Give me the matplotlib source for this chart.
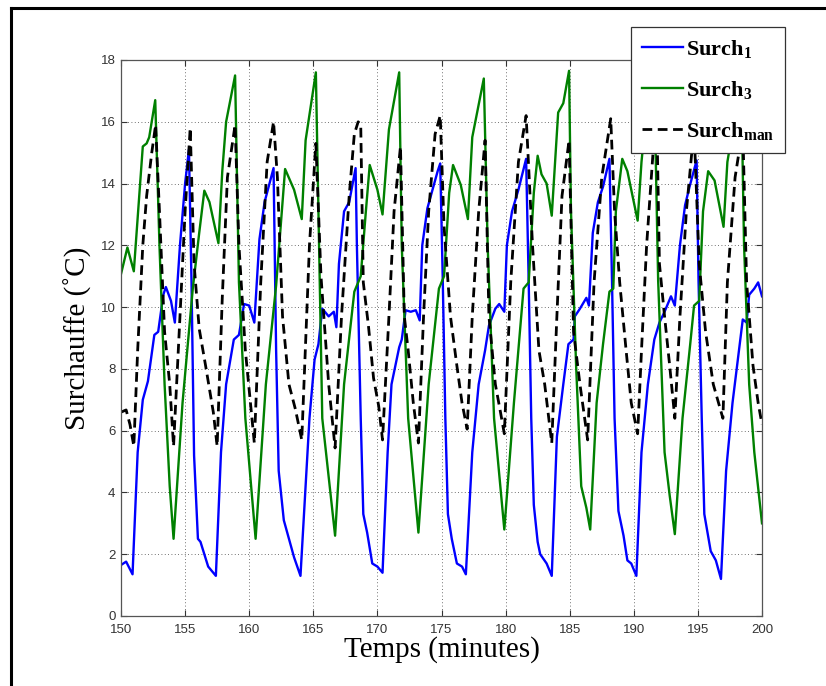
import matplotlib
matplotlib.use("Agg")
import matplotlib.pyplot as plt
from matplotlib.lines import Line2D

# ============================================================
# Plot settings
# ============================================================
matplotlib.rcParams.update({
    "font.family": ["Liberation Serif", "DejaVu Serif"],
    "mathtext.fontset": "custom",
    "mathtext.default": "bf",
    "mathtext.bf": "Liberation Serif:bold",
    "mathtext.rm": "Liberation Serif:bold",
})

# ============================================================
# Data
# ============================================================
t_surch1 = [
    150.0, 150.4, 150.9, 151.3, 151.7, 152.1, 152.6, 152.9, 153.3, 153.5,
    153.9, 154.2, 154.6, 155.0, 155.3, 155.5, 155.7, 156.0, 156.2, 156.8,
    157.4, 157.8, 158.2, 158.8, 159.2, 159.6, 160.0, 160.4, 160.8, 161.2,
    161.9, 162.1, 162.3, 162.7, 163.1, 163.5, 164.0, 164.7, 165.1, 165.4,
    165.7, 166.2, 166.6, 166.8, 167.0, 167.4, 167.8, 168.3, 168.4, 168.7,
    168.9, 169.2, 169.6, 170.0, 170.4, 170.8, 171.1, 171.7, 171.9, 172.2,
    172.6, 173.0, 173.3, 173.5, 173.9, 174.3, 174.7, 174.9, 175.1, 175.3,
    175.5, 175.8, 176.2, 176.6, 176.9, 177.4, 177.9, 178.4, 178.7, 179.2,
    179.5, 179.9, 180.1, 180.5, 181.0, 181.6, 181.8, 182.0, 182.2, 182.5,
    182.7, 183.2, 183.6, 184.0, 184.5, 184.9, 185.3, 185.4, 185.8, 186.3,
    186.5, 186.8, 187.2, 187.6, 188.1, 188.3, 188.5, 188.8, 189.2, 189.5,
    189.8, 190.2, 190.6, 191.1, 191.6, 192.0, 192.4, 192.9, 193.2, 193.6,
    194.0, 194.35, 194.9, 195.05, 195.3, 195.5, 196.0, 196.4, 196.8, 197.2,
    197.7, 198.2, 198.5, 198.8, 199.0, 199.4, 199.7, 200.0,
]
surch1 = [
    1.65, 1.76, 1.35, 5.3, 7.0, 7.6, 9.1, 9.2, 10.4, 10.65,
    10.2, 9.5, 12.0, 14.0, 15.1, 10.8, 5.2, 2.5, 2.4, 1.6,
    1.3, 5.3, 7.5, 8.95, 9.1, 10.1, 10.05, 9.5, 12.2, 13.4,
    14.5, 8.6, 4.7, 3.1, 2.5, 1.9, 1.3, 6.4, 8.3, 8.8,
    9.95, 9.7, 9.85, 9.35, 11.4, 13.1, 13.4, 14.5, 12.0, 6.4,
    3.3, 2.7, 1.7, 1.6, 1.4, 5.3, 7.5, 8.7, 8.95, 9.9,
    9.85, 9.9, 9.57, 12.0, 13.2, 13.8, 14.4, 14.65, 10.85, 6.4,
    3.3, 2.5, 1.7, 1.6, 1.35, 5.3, 7.5, 8.6, 9.4, 9.95,
    10.1, 9.85, 12.0, 13.1, 13.8, 14.8, 10.85, 6.4, 3.6, 2.4,
    2.0, 1.7, 1.3, 5.8, 7.5, 8.8, 8.95, 9.7, 9.95, 10.3,
    10.05, 12.4, 13.4, 13.9, 14.8, 10.85, 6.4, 3.4, 2.6, 1.8,
    1.7, 1.3, 5.3, 7.5, 8.95, 9.5, 9.85, 10.35, 10.05, 12.0,
    13.3, 13.9, 14.75, 10.85, 6.4, 3.3, 2.1, 1.8, 1.2, 4.7,
    6.9, 8.6, 9.6, 9.5, 10.4, 10.6, 10.8, 10.35,
]

t_surch3 = [
    150.0, 150.5, 151.0, 151.7, 152.0, 152.2, 152.67, 153.0, 153.4, 153.8,
    154.1, 154.8, 155.6, 156.1, 156.5, 156.9, 157.6, 157.9, 158.2, 158.9,
    159.2, 159.7, 160.5, 161.3, 162.1, 162.8, 163.5, 164.1, 164.4, 165.2,
    165.7, 166.7, 167.4, 168.2, 168.7, 169.1, 169.4, 170.0, 170.4, 170.9,
    171.7, 171.9, 172.4, 173.2, 174.0, 174.8, 175.2, 175.6, 175.9, 176.5,
    177.06, 177.4, 178.3, 178.6, 179.1, 179.9, 180.65, 181.4, 181.8, 182.2,
    182.5, 182.8, 183.2, 183.6, 184.1, 184.5, 184.95, 185.1, 185.5, 185.9,
    186.3, 186.6, 187.1, 187.6, 188.1, 188.4, 188.6, 189.1, 189.5, 190.3,
    190.6, 191.0, 191.6, 191.9, 192.4, 192.8, 193.2, 193.8, 194.4, 194.7,
    195.1, 195.4, 195.8, 196.3, 197.0, 197.3, 197.9, 198.4, 198.6, 199.0,
    199.4, 200.0,
]
surch3 = [
    11.07, 11.93, 11.16, 15.2, 15.3, 15.5, 16.7, 12.0, 7.5, 4.2,
    2.5, 6.9, 10.6, 12.4, 13.77, 13.4, 12.07, 14.4, 16.0, 17.5,
    10.8, 6.4, 2.5, 7.5, 10.7, 14.47, 13.8, 12.85, 15.4, 17.6,
    6.4, 2.6, 7.5, 10.5, 11.0, 13.1, 14.6, 13.8, 13.0, 15.75,
    17.6, 12.0, 6.4, 2.7, 7.5, 10.6, 11.0, 13.7, 14.6, 13.96,
    12.85, 15.5, 17.4, 12.0, 6.4, 2.8, 6.9, 10.6, 10.8, 13.7,
    14.9, 14.3, 14.0, 12.96, 16.3, 16.6, 17.65, 13.1, 8.1, 4.2,
    3.5, 2.8, 6.9, 8.8, 10.5, 10.6, 13.1, 14.8, 14.4, 12.8,
    14.7, 16.4, 17.2, 10.85, 5.3, 3.9, 2.65, 6.4, 8.8, 10.05,
    10.2, 13.1, 14.4, 14.1, 12.6, 14.7, 16.2, 16.8, 12.0, 7.5,
    5.3, 3.0,
]

t_surch_man = [
    150.0, 150.4, 150.7, 151.0, 151.3, 151.7, 152.0, 152.4, 152.7, 153.0,
    153.4, 153.8, 154.1, 154.6, 155.0, 155.4, 155.7, 156.1, 156.6, 157.2,
    157.5, 157.9, 158.3, 158.9, 159.2, 159.7, 160.4, 160.9, 161.4, 161.9,
    162.2, 162.6, 163.1, 163.6, 164.1, 164.7, 165.2, 165.6, 166.2, 166.7,
    167.2, 167.8, 168.2, 168.5, 168.7, 168.9, 169.3, 169.7, 170.1, 170.4,
    170.9, 171.3, 171.8, 172.1, 172.4, 172.8, 173.2, 173.6, 174.0, 174.5,
    174.9, 175.2, 175.7, 176.2, 176.6, 177.0, 177.4, 177.9, 178.4, 178.7,
    179.2, 179.6, 179.9, 180.4, 181.0, 181.6, 182.1, 182.6, 183.05, 183.6,
    184.0, 184.4, 184.95, 185.3, 185.8, 186.4, 186.9, 187.5, 188.2, 188.5,
    188.9, 189.4, 189.8, 190.3, 190.6, 191.0, 191.5, 191.8, 192.0, 192.4,
    192.8, 193.2, 193.6, 194.1, 194.7, 195.1, 195.6, 196.2, 196.95, 197.3,
    197.9, 198.5, 198.8, 199.3, 199.7, 200.0,
]
surch_man = [
    6.6, 6.67, 6.2, 5.5, 8.6, 12.0, 13.6, 15.0, 15.9, 13.1,
    9.2, 7.5, 5.5, 9.7, 13.1, 15.8, 11.4, 9.3, 8.1, 6.6,
    5.5, 10.3, 14.2, 15.9, 12.0, 8.6, 5.6, 10.8, 14.7, 16.0,
    14.2, 9.7, 7.5, 6.7, 5.7, 12.0, 15.3, 11.0, 7.5, 5.44,
    9.7, 13.6, 15.6, 16.0, 15.9, 10.8, 9.4, 7.7, 6.8, 5.7,
    9.7, 13.1, 15.2, 9.7, 8.6, 6.9, 5.6, 9.7, 13.1, 15.6,
    16.2, 12.6, 9.7, 8.1, 6.9, 6.05, 9.7, 13.1, 15.4, 9.7,
    7.5, 6.6, 5.9, 10.8, 14.7, 16.2, 12.0, 8.6, 7.5, 5.6,
    9.7, 13.6, 15.4, 9.2, 7.5, 5.7, 10.8, 14.2, 16.1, 13.1,
    10.8, 8.6, 6.9, 5.9, 8.6, 12.0, 15.0, 16.0, 11.4, 9.7,
    8.1, 6.4, 9.7, 13.1, 15.8, 11.4, 9.2, 7.5, 6.4, 10.8,
    14.2, 15.8, 10.8, 8.1, 6.9, 6.2,
]

labels = [r"$Surch_1$", r"$Surch_3$", r"$Surch_{man}$"]
x_ticks = [150, 155, 160, 165, 170, 175, 180, 185, 190, 195, 200]
y_ticks = [0, 2, 4, 6, 8, 10, 12, 14, 16, 18]


# ============================================================
# Plotting
# ============================================================
def main():
    fig = plt.figure(figsize=(8.26, 6.86), dpi=100)
    ax = fig.add_axes([121 / 826, 1 - 616 / 686, (762 - 121) / 826, (616 - 60) / 686])

    ax.plot(t_surch1, surch1, color="#0000ff", linewidth=1.7, label=labels[0])
    ax.plot(t_surch3, surch3, color="#008000", linewidth=1.7, label=labels[1])
    ax.plot(t_surch_man, surch_man, color="black", linewidth=2.0,
            linestyle=(0, (3.5, 2.0)), label=labels[2])

    ax.set_xlim(150, 200)
    ax.set_ylim(0, 18)
    ax.set_xticks(x_ticks)
    ax.set_yticks(y_ticks)

    # MATLAB-ish dotted grid, ticks inside on all sides
    ax.grid(True, color="#444444", linestyle=(0, (1, 3)), linewidth=0.6)
    ax.tick_params(direction="in", length=4, width=0.8, top=True, right=True,
                   colors="#333333", labelsize=9.5)
    ax.tick_params(axis="x", pad=5.5)
    ax.tick_params(axis="y", pad=4)
    for lab in ax.get_xticklabels() + ax.get_yticklabels():
        lab.set_family(["Liberation Sans"])
    for sp in ax.spines.values():
        sp.set_color("#555555")
        sp.set_linewidth(0.9)

    ax.set_xlabel("Temps (minutes)", fontsize=21, labelpad=0)
    ax.set_ylabel("Surchauffe (\u02daC)", fontsize=21, labelpad=6)

    leg = ax.legend(loc="upper right", bbox_to_anchor=(785 / 826, 1 - 27 / 686),
                    bbox_transform=fig.transFigure, borderaxespad=0,
                    fontsize=16, handlelength=1.85, handletextpad=0.1,
                    labelspacing=0.85, borderpad=0.5, fancybox=False,
                    framealpha=1, edgecolor="#333333")
    leg.get_frame().set_linewidth(0.9)

    # partial outer frame (top and left edges)
    x0, y0 = 11 / 826, 1 - 8 / 686
    fig.add_artist(Line2D([x0, 1], [y0, y0], transform=fig.transFigure,
                          color="black", linewidth=2.2))
    fig.add_artist(Line2D([x0, x0], [0, y0], transform=fig.transFigure,
                          color="black", linewidth=2.2))

    fig.savefig("out.png", dpi=100)


if __name__ == "__main__":
    main()
